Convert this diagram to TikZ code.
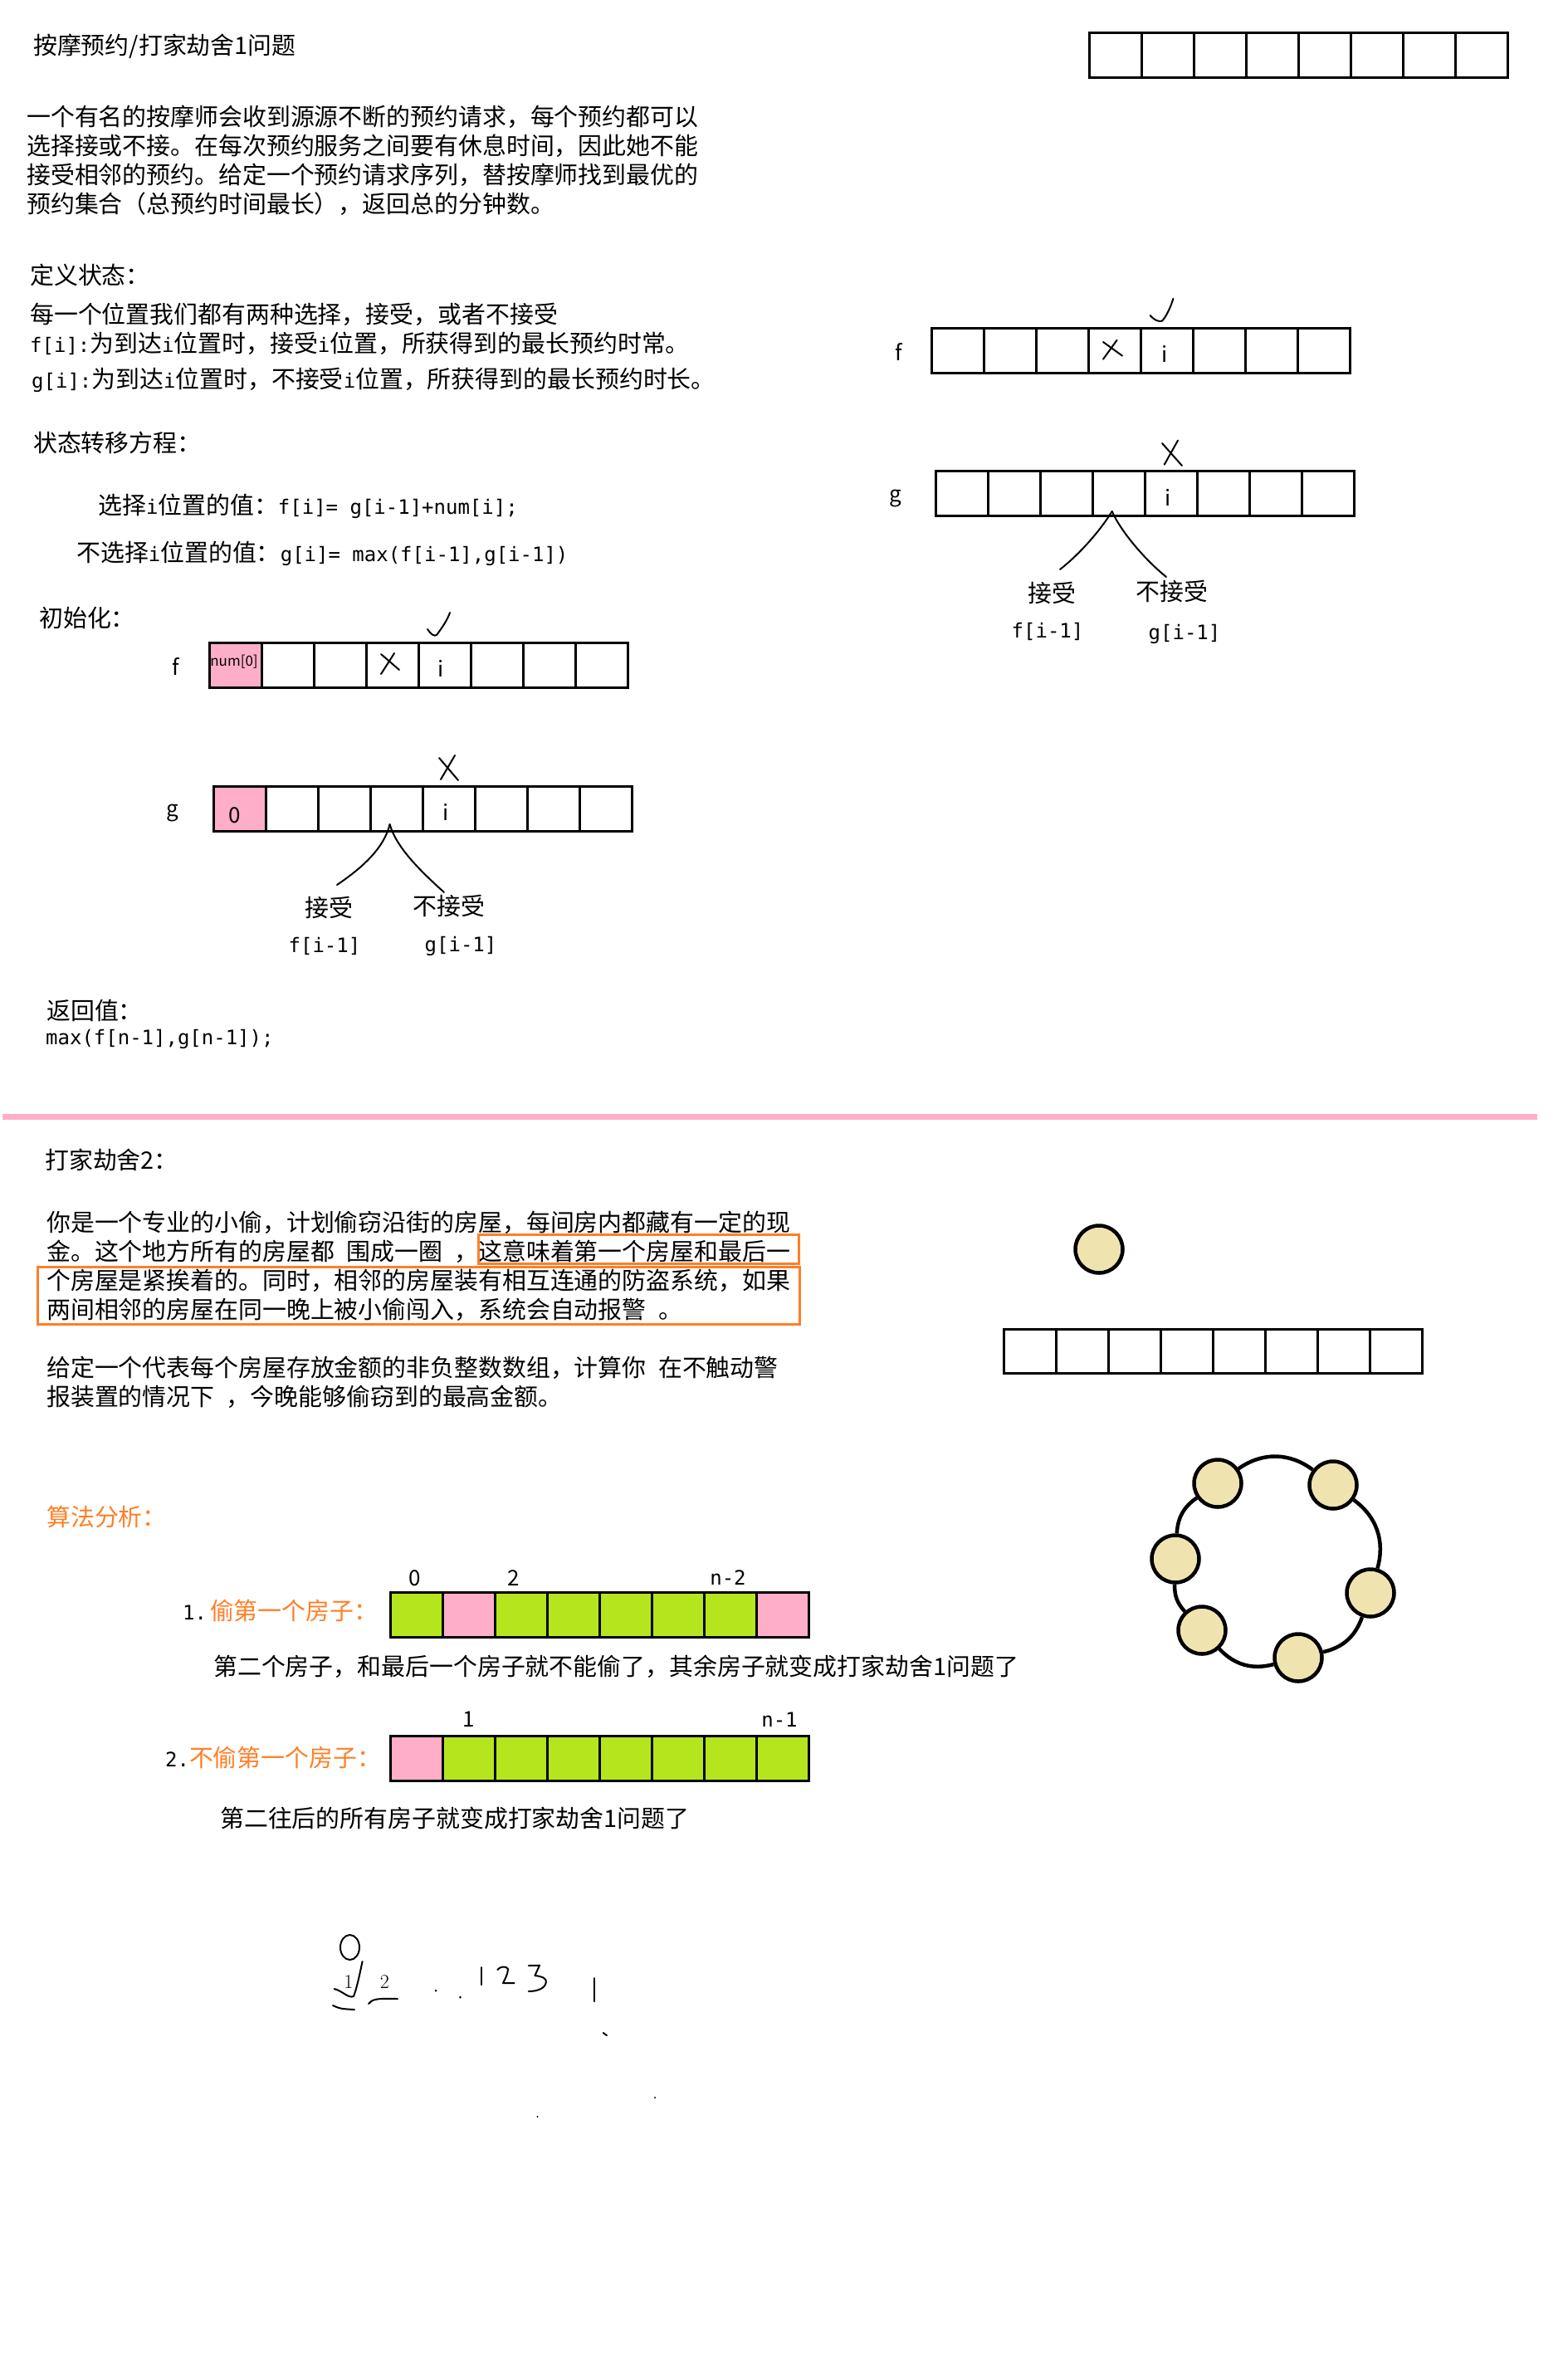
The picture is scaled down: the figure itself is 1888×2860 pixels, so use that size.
\documentclass[tikz,border=0pt]{standalone}
\usepackage{fontspec}
\newfontfamily\cjk{Noto Sans CJK SC}
\newfontfamily\hwfont[Scale=0.83]{DejaVu Sans Mono}
\newcommand{\hw}[1]{{\hwfont #1}}
\definecolor{pinkc}{HTML}{FFAEC9}
\definecolor{greenc}{HTML}{B5E61D}
\definecolor{orangec}{HTML}{FF7F27}
\definecolor{tanc}{HTML}{EFE4B0}
\begin{document}
\begin{tikzpicture}[x=1pt,y=-1pt,
 txt/.style={anchor=base west, inner sep=0pt, font=\cjk\fontsize{28.9}{32}\selectfont},
 lbl/.style={anchor=base, inner sep=0pt, font=\cjk\fontsize{26}{30}\selectfont},
 hwl/.style={anchor=base, inner sep=0pt, font=\hwfont\fontsize{28.9}{30}\selectfont},
 cell/.style={draw, line width=3pt, minimum width=63pt, minimum height=54pt, inner sep=0pt, anchor=north west},
 hand/.style={line width=2pt, line cap=round, line join=round},
 house/.style={circle, draw, line width=4.5pt, fill=tanc, minimum size=57pt, inner sep=0pt},
 ring/.style={line width=4.5pt},
 obox/.style={draw=orangec, line width=3pt},
]
\fill[white] (0,0) rectangle (1888,2860);
\useasboundingbox (0,0) rectangle (1888,2860);

% ---------- section 1 text ----------
\node[txt] (title) at (40,65) {按摩预约/打家劫舍1问题};
\node[txt] (p1a) at (32,151) {一个有名的按摩师会收到源源不断的预约请求，每个预约都可以};
\node[txt] (p1b) at (32,186) {选择接或不接。在每次预约服务之间要有休息时间，因此她不能};
\node[txt] (p1c) at (32,221) {接受相邻的预约。给定一个预约请求序列，替按摩师找到最优的};
\node[txt] (p1d) at (32,256) {预约集合（总预约时间最长），返回总的分钟数。};
\node[txt] (def) at (36,342) {定义状态：};
\node[txt] (defa) at (36,389) {每一个位置我们都有两种选择，接受，或者不接受};
\node[txt] (defb) at (36,424) {\hw{f[i]:}为到达\hw{i}位置时，接受\hw{i}位置，所获得到的最长预约时常。};
\node[txt] (defc) at (38,467) {\hw{g[i]:}为到达\hw{i}位置时，不接受\hw{i}位置，所获得到的最长预约时长。};
\node[txt] (trans) at (40,544) {状态转移方程：};
\node[txt] (tra) at (118,619) {选择\hw{i}位置的值：\hw{f[i]= g[i-1]+num[i];}};
\node[txt] (trb) at (92,676) {不选择\hw{i}位置的值：\hw{g[i]= max(f[i-1],g[i-1])}};
\node[txt] (init) at (47,755) {初始化：};

% ---------- top right array ----------
\foreach \i in {0,...,7} \node[cell] (top\i) at ({1311+63*\i},38) {};

% ---------- left f array ----------
\foreach \i/\c in {0/pinkc,1/white,2/white,3/white,4/white,5/white,6/white,7/white}
  \node[cell,fill=\c] (lf\i) at ({251+63*\i},773) {};
\node[lbl] (lfl) at (212,813) {f};
\node[anchor=base, inner sep=0pt, font=\cjk\fontsize{17}{17}\selectfont] (num0) at (282,802) {num[0]};
\node[lbl] (lfi) at (531,815) {i};
\draw[hand] (459,788) -- (481,807);
\draw[hand] (475,787) -- (459,812);
\draw[hand] (515,758) .. controls (519,764) and (523,767) .. (526,765) .. controls (532,757) and (539,747) .. (542,738);

% ---------- left g array ----------
\foreach \i/\c in {0/pinkc,1/white,2/white,3/white,4/white,5/white,6/white,7/white}
  \node[cell,fill=\c] (lg\i) at ({256+63*\i},946) {};
\node[lbl] (lgl) at (208,983) {g};
\node[lbl] (lg0t) at (283,991) {0};
\node[lbl] (lgi) at (537,988) {i};
\draw[hand] (529,913) -- (552,940);
\draw[hand] (548,910) -- (531,939);
\coordinate (lbr) at (469.6,993);
\draw[hand] (lbr) .. controls (463,1020) and (440,1043) .. (406,1066);
\draw[hand] (lbr) .. controls (477,1020) and (505,1048) .. (535,1075);
\node[txt] (lacc) at (367,1104) {接受};
\node[txt] (lrej) at (497,1102) {不接受};
\node[hwl] (lfm) at (391,1147) {f[i-1]};
\node[hwl] (lgm) at (555,1146) {g[i-1]};
\node[txt] (ret) at (56,1228) {返回值：};
\node[txt] (retv) at (55,1258) {\hw{max(f[n-1],g[n-1]);}};

% ---------- right f array ----------
\foreach \i in {0,...,7} \node[cell] (rf\i) at ({1121+63*\i},394) {};
\node[lbl] (rfl) at (1083,434) {f};
\node[lbl] (rfi) at (1403,436) {i};
\draw[hand] (1329,412) -- (1352,428.6);
\draw[hand] (1345.6,409.7) -- (1329,432.7);
\draw[hand] (1385.6,380) .. controls (1390,385) and (1395,388) .. (1400,386.7) .. controls (1406,380) and (1411,368) .. (1413.4,359.7);

% ---------- right g array ----------
\foreach \i in {0,...,7} \node[cell] (rg\i) at ({1126+63*\i},566) {};
\node[lbl] (rgl) at (1079,604) {g};
\node[lbl] (rgi) at (1407,609) {i};
\draw[hand] (1400,534) -- (1424,561);
\draw[hand] (1419,530.6) -- (1402.7,559.7);
\coordinate (rbr) at (1339.7,616);
\draw[hand] (rbr) .. controls (1325,640) and (1300,668) .. (1277,686);
\draw[hand] (rbr) .. controls (1350,640) and (1380,675) .. (1405,695);
\node[txt] (racc) at (1238,725) {接受};
\node[txt] (rrej) at (1368,723) {不接受};
\node[hwl] (rfm) at (1262,768) {f[i-1]};
\node[hwl] (rgm) at (1427,770) {g[i-1]};

% ---------- separator ----------
\draw[pinkc, line width=7pt] (3,1345) -- (1852,1345);

% ---------- section 2 text ----------
\node[txt] (t2) at (54,1408) {打家劫舍2：};
\node[txt] (q1) at (56,1483) {你是一个专业的小偷，计划偷窃沿街的房屋，每间房内都藏有一定的现};
\node[txt] (q2) at (56,1518) {金。这个地方所有的房屋都\hspace{.5em}围成一圈\hspace{.5em}，这意味着第一个房屋和最后一};
\node[txt] (q3) at (56,1553) {个房屋是紧挨着的。同时，相邻的房屋装有相互连通的防盗系统，如果};
\node[txt] (q4) at (56,1588) {两间相邻的房屋在同一晚上被小偷闯入，系统会自动报警\hspace{.5em}。};
\draw[obox] (576,1487) rectangle (962,1522);
\draw[obox] (45,1526) rectangle (963,1595);
\node[txt] (q5) at (56,1658) {给定一个代表每个房屋存放金额的非负整数数组，计算你\hspace{.5em}在不触动警};
\node[txt] (q6) at (56,1693) {报装置的情况下\hspace{.5em}，今晚能够偷窃到的最高金额。};

% ---------- right section 2 ----------
\node[house] (hsingle) at (1324,1505) {};
\foreach \i in {0,...,7} \node[cell, minimum height=53pt] (h\i) at ({1208+63*\i},1600) {};
\node[house] (hA) at (1467,1787) {};
\node[house] (hB) at (1606,1789) {};
\node[house] (hC) at (1416,1878) {};
\node[house] (hD) at (1651,1919) {};
\node[house] (hE) at (1448,1964) {};
\node[house] (hF) at (1564,1997) {};
\draw[ring] (hA) to[bend left=36] (hB);
\draw[ring] (hB) to[bend left=35] (hD);
\draw[ring] (hD) to[bend left=29] (hF);
\draw[ring] (hF) to[bend left=31] (hE);
\draw[ring] (hE) to[bend left=22] (hC);
\draw[ring] (hC) to[bend left=26] (hA);

% ---------- algorithm analysis ----------
\node[txt, text=orangec] (alg) at (56,1838) {算法分析：};
\node[txt] (s1) at (220,1951) {\hw{1.}\hspace{4pt}\textcolor{orangec}{偷第一个房子：}};
\foreach \i/\c in {0/greenc,1/pinkc,2/greenc,3/greenc,4/greenc,5/greenc,6/greenc,7/pinkc}
  \node[cell,fill=\c] (ga\i) at ({469+63*\i},1917) {};
\node[lbl] (a0) at (500,1910) {0};
\node[lbl] (a2) at (619,1910) {2};
\node[hwl] (an2) at (877,1909) {n-2};
\node[txt] (s1d) at (257,2018) {第二个房子，和最后一个房子就不能偷了，其余房子就变成打家劫舍1问题了};
\node[txt] (s2) at (199,2128) {\hw{2.}\textcolor{orangec}{不偷第一个房子：}};
\foreach \i/\c in {0/pinkc,1/greenc,2/greenc,3/greenc,4/greenc,5/greenc,6/greenc,7/greenc}
  \node[cell,fill=\c] (gb\i) at ({469+63*\i},2090) {};
\node[lbl] (b1) at (565,2080) {1};
\node[hwl] (bn1) at (939,2080) {n-1};
\node[txt] (s2d) at (265,2201) {第二往后的所有房子就变成打家劫舍1问题了};

% ---------- handwriting at bottom ----------
\draw[hand] (421.5,2346) ellipse (11.5 and 15);
\draw[hand] (402.6,2396) .. controls (412,2398) and (420,2408) .. (426,2405) .. controls (430,2395) and (434,2375) .. (436.6,2363);
\node[anchor=base, inner sep=0pt, font=\fontsize{24}{24}\selectfont] (w1) at (420,2395) {1};
\node[anchor=base, inner sep=0pt, font=\fontsize{24}{24}\selectfont] (w2) at (463.5,2395) {2};
\draw[hand] (401,2416) .. controls (410,2420) .. (427,2421);
\draw[hand] (444,2414) .. controls (448,2409) and (452,2407) .. (479,2408);
\fill (525,2398) circle (1.5);
\fill (554.5,2406) circle (1.5);
\draw[hand] (580,2370) -- (580,2391);
\draw[hand] (599.3,2373) .. controls (602,2369) and (610,2368) .. (612,2372) .. controls (612,2378) and (608,2385) .. (606,2389) -- (619.6,2389);
\draw[hand] (636.8,2368) -- (650,2367.7) -- (644.4,2380) .. controls (654,2381) and (659,2384) .. (657.8,2388) .. controls (657,2395) and (648,2399) .. (636.8,2399);
\draw[hand] (716,2383) -- (716,2411);
\draw[hand] (726.7,2449) -- (731,2452);
\fill (789,2527) circle (1.2);
\fill (647.5,2550) circle (1.2);
\end{tikzpicture}
\end{document}
